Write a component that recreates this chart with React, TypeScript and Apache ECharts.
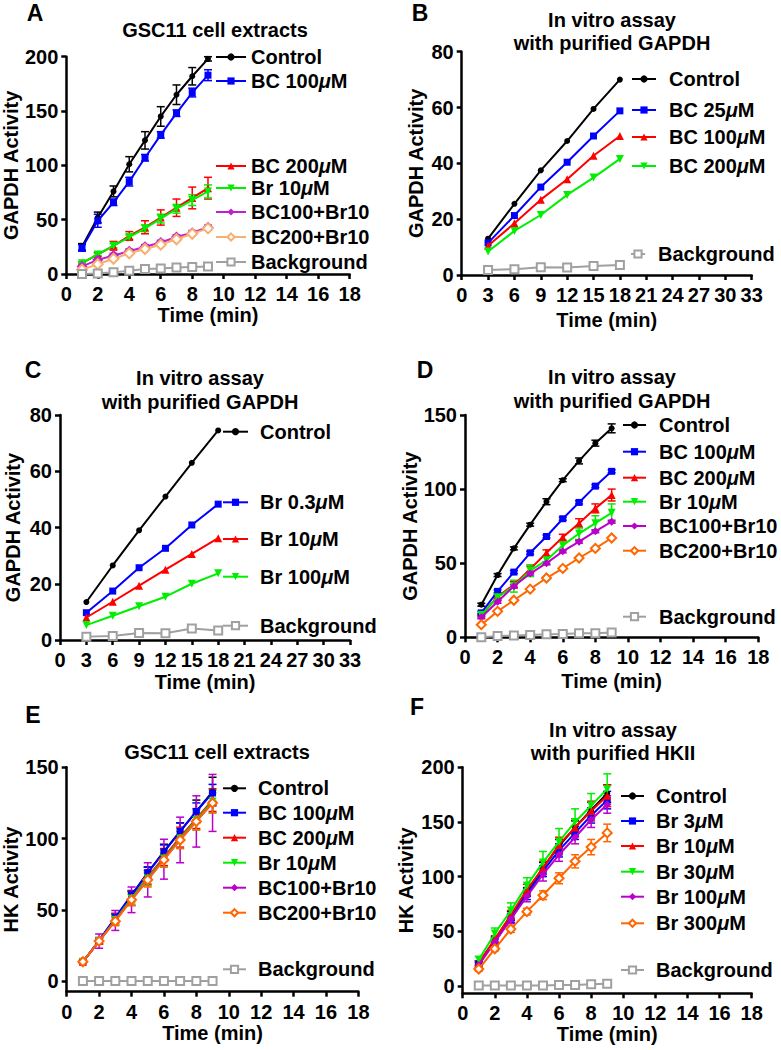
import React, { useEffect, useRef } from "react";
import * as echarts from "echarts";

const FONT = '"Liberation Sans", Arial, Helvetica, sans-serif';

// ---------------- data ----------------
const timeShort = [1, 2, 3, 4, 5, 6, 7, 8, 9];
const timeLong = [3, 6, 9, 12, 15, 18];

const ticksGAPDH200 = [0, 50, 100, 150, 200];
const ticksGAPDH80 = [0, 20, 40, 60, 80];
const ticks150 = [0, 50, 100, 150];
const ticks200 = [0, 50, 100, 150, 200];

// Panel A
const aControl = [25, 52, 76, 101, 123, 145, 165, 182, 198];
const aControlErr = [3, 5, 5, 7, 8, 9, 9, 8, 2];
const aBC100 = [24, 49, 66, 85, 107, 128, 148, 167, 183];
const aBC100Err = [3, 6, 3, 4, 3, 3, 3, 4, 5];
const aBC200 = [10, 18, 26, 35, 43, 52, 61, 70, 79];
const aBC200Err = [1, 2, 4, 4, 6, 7, 8, 10, 10];
const aBr10 = [10, 18, 26, 34, 42, 51, 60, 68, 76];
const aBr10Err = [1, 1, 2, 2, 3, 4, 4, 5, 6];
const aBC100Br10 = [7, 13, 17, 21, 25, 29, 34, 38, 43];
const aBC100Br10Err = [1, 1, 2, 2, 2, 2, 2, 2, 2];
const aBC200Br10 = [4, 9, 14, 19, 23, 27, 32, 37, 42];
const aBackground = [0, 0.5, 1.5, 3, 4.5, 5, 6, 6.5, 7];

// Panel B
const bControl = [13, 25.5, 37.5, 48, 59.5, 70];
const bBC25 = [11.5, 21.3, 31.5, 40.4, 49.8, 58.8];
const bBC100 = [10.5, 18.5, 27, 34.3, 42.7, 49.8];
const bBC200 = [8.4, 15.8, 21.5, 28.7, 34.9, 41.6];
const bBackground = [1.8, 2.1, 2.8, 2.7, 3.2, 3.6];

// Panel C
const cControl = [13.5, 26.5, 39, 51, 63, 74.5];
const cBr03 = [9.7, 17.4, 25.7, 32.6, 40.9, 48.3];
const cBr10 = [8, 13.6, 19.3, 25, 30.6, 36.2];
const cBr100 = [5.3, 8.6, 12, 15.4, 20, 23.7];
const cBackground = [1.2, 1.4, 2.5, 2.4, 4.1, 3.4];

// Panel D
const dControl = [22, 42, 60, 76, 91.5, 106, 119, 131, 141];
const dControlErr = [1, 1, 1, 1, 2, 1, 2, 2, 3];
const dBC100 = [16.5, 31, 44, 57, 68, 80, 91, 102, 112];
const dBC100Err = [1, 1, 1, 1, 1, 1, 1, 1, 1];
const dBC200 = [15, 27.5, 35.5, 46, 57, 67.5, 77, 87, 96];
const dBC200Err = [1, 1, 2, 2, 2, 2, 3, 3, 4];
const dBr10 = [15, 27, 34.5, 45, 52, 62, 70, 77, 84];
const dBr10Err = [1, 2, 4, 4, 3, 3, 4, 5, 6];
const dBC100Br10 = [13.5, 24, 34.5, 43, 50, 58, 64.5, 71.5, 78];
const dBC100Br10Err = [1, 1, 1, 1, 1, 1, 1, 1, 1];
const dBC200Br10 = [8.5, 17.5, 25, 32.5, 40, 46.5, 53.5, 60, 67];
const dBackground = [0, 0.8, 1.2, 1.6, 2, 2.2, 2.7, 2.8, 3.2];

// Panel E
const eControl = [13.5, 28, 44, 60, 76, 91, 105, 119, 133];
const eControlErr = [1, 2, 3, 3, 4, 5, 6, 8, 10];
const eBC100 = [13.5, 28.5, 44.5, 60.5, 76, 90.5, 105, 119, 132];
const eBC100Err = [1, 2, 3, 3, 4, 5, 6, 6, 6];
const eBC200 = [13.5, 28, 43, 58, 73, 87, 101, 114, 127];
const eBC200Err = [1, 2, 4, 5, 5, 6, 7, 7, 8];
const eBr10 = [13.5, 28, 43, 58, 72, 86, 100, 113, 126];
const eBr10Err = [1, 2, 3, 4, 5, 6, 7, 7, 8];
const eBC100Br10 = [13.5, 28, 42.5, 57, 71, 85.5, 99, 112, 125];
const eBC100Br10Err = [1, 5, 7, 9, 12, 14, 16, 18, 20];
const eBC200Br10 = [13.5, 28, 42, 57, 71, 85, 99, 112, 125];
const eBC200Br10Err = [1, 2, 3, 4, 5, 5, 6, 6, 7];
const eBackground = [0, 0, 0, 0, 0, 0, 0, 0, 0];

// Panel F
const fControl = [21, 42, 64, 86, 108, 128, 145, 161, 176];
const fControlErr = [2, 3, 4, 4, 5, 6, 6, 7, 8];
const fBr3 = [20, 41, 62, 84, 105, 124, 140, 156, 170];
const fBr3Err = [2, 3, 4, 5, 5, 6, 6, 7, 8];
const fBr10 = [21, 43, 65, 88, 108, 129, 145, 160, 174];
const fBr10Err = [2, 3, 4, 5, 6, 7, 8, 9, 10];
const fBr30 = [24, 48, 69, 92, 113, 132, 150, 165, 180];
const fBr30Err = [3, 5, 7, 7, 10, 12, 12, 11, 14];
const fBr100 = [19, 40, 61, 82, 102, 120, 136, 152, 166];
const fBr100Err = [2, 3, 4, 5, 6, 6, 6, 7, 8];
const fBr300 = [15.5, 34, 52, 68, 83, 98.5, 114, 127, 140];
const fBr300Err = [2, 2, 3, 3, 4, 5, 6, 7, 8];
const fBackground = [0.5, 0.5, 0.5, 0.5, 0.5, 1, 1, 1.5, 2];

// ---------------- styles ----------------
const DOWN_TRI = "path://M0,0L10,0L5,10Z";
const STYLES: Record<string, { color: string; symbol: string; size: number }> = {
  black: { color: "#000000", symbol: "circle", size: 6 },
  blue: { color: "#0000ff", symbol: "rect", size: 7 },
  red: { color: "#ff0000", symbol: "triangle", size: 8 },
  green: { color: "#00ee00", symbol: DOWN_TRI, size: 8 },
  purple: { color: "#bb00cc", symbol: "diamond", size: 8 },
  purpleBig: { color: "#bb22cc", symbol: "diamond", size: 11 },
  orange: { color: "#ff6600", symbol: "emptyDiamond", size: 9 },
  peach: { color: "#f8b070", symbol: "emptyDiamond", size: 10 },
  gray: { color: "#a0a0a0", symbol: "emptyRect", size: 8 },
};

type SeriesDef = { label: string; style: string; values: number[]; errors?: number[] };
type LegendPos = { y: number; left?: number; itemWidth?: number };
type PanelDef = {
  key: string;
  time: number[];
  series: SeriesDef[];
  grid: { left: number; top: number; width: number; height: number };
  xMax: number;
  xInterval: number;
  xNameGap: number;
  yMin: number;
  yMax: number;
  yTicks: number[];
  yName: string;
  yNameGap: number;
  legend: { left: number; itemWidth: number; textPad: number; items: LegendPos[] };
};

const panels: PanelDef[] = [
  {
    key: "A",
    time: timeShort,
    series: [
      { label: "Control", style: "black", values: aControl, errors: aControlErr },
      { label: "BC 100μM", style: "blue", values: aBC100, errors: aBC100Err },
      { label: "BC 200μM", style: "red", values: aBC200, errors: aBC200Err },
      { label: "Br 10μM", style: "green", values: aBr10, errors: aBr10Err },
      { label: "BC100+Br10", style: "purpleBig", values: aBC100Br10, errors: aBC100Br10Err },
      { label: "BC200+Br10", style: "peach", values: aBC200Br10 },
      { label: "Background", style: "gray", values: aBackground },
    ],
    grid: { left: 61.7, top: 56.7, width: 288, height: 217.3 },
    xMax: 18, xInterval: 2, xNameGap: 30,
    yMin: 0, yMax: 200, yTicks: ticksGAPDH200, yName: "GAPDH Activity", yNameGap: 43,
    legend: { left: 215, itemWidth: 30, textPad: 0, items: [{ y: 57 }, { y: 81 }, { y: 166 }, { y: 188 }, { y: 212 }, { y: 237 }, { y: 262 }] },
  },
  {
    key: "B",
    time: timeLong,
    series: [
      { label: "Control", style: "black", values: bControl },
      { label: "BC 25μM", style: "blue", values: bBC25 },
      { label: "BC 100μM", style: "red", values: bBC100 },
      { label: "BC 200μM", style: "green", values: bBC200 },
      { label: "Background", style: "gray", values: bBackground },
    ],
    grid: { left: 461.7, top: 51.7, width: 290, height: 223.3 },
    xMax: 33, xInterval: 3, xNameGap: 35,
    yMin: 0, yMax: 80, yTicks: ticksGAPDH80, yName: "GAPDH Activity", yNameGap: 36,
    legend: { left: 631, itemWidth: 24, textPad: 8, items: [{ y: 79 }, { y: 110 }, { y: 137 }, { y: 166 }, { y: 254, left: 630, itemWidth: 14 }] },
  },
  {
    key: "C",
    time: timeLong,
    series: [
      { label: "Control", style: "black", values: cControl },
      { label: "Br 0.3μM", style: "blue", values: cBr03 },
      { label: "Br 10μM", style: "red", values: cBr10 },
      { label: "Br 100μM", style: "green", values: cBr100 },
      { label: "Background", style: "gray", values: cBackground },
    ],
    grid: { left: 60, top: 415, width: 290, height: 225 },
    xMax: 33, xInterval: 3, xNameGap: 32,
    yMin: 0, yMax: 80, yTicks: ticksGAPDH80, yName: "GAPDH Activity", yNameGap: 37,
    legend: { left: 222, itemWidth: 25, textPad: 7, items: [{ y: 431.7 }, { y: 502.3 }, { y: 539 }, { y: 576.7 }, { y: 625.7 }] },
  },
  {
    key: "D",
    time: timeShort,
    series: [
      { label: "Control", style: "black", values: dControl, errors: dControlErr },
      { label: "BC 100μM", style: "blue", values: dBC100, errors: dBC100Err },
      { label: "BC 200μM", style: "red", values: dBC200, errors: dBC200Err },
      { label: "Br 10μM", style: "green", values: dBr10, errors: dBr10Err },
      { label: "BC100+Br10", style: "purple", values: dBC100Br10, errors: dBC100Br10Err },
      { label: "BC200+Br10", style: "orange", values: dBC200Br10 },
      { label: "Background", style: "gray", values: dBackground },
    ],
    grid: { left: 465, top: 415, width: 293.3, height: 222.3 },
    xMax: 18, xInterval: 2, xNameGap: 34,
    yMin: 0, yMax: 150, yTicks: ticks150, yName: "GAPDH Activity", yNameGap: 43,
    legend: { left: 622, itemWidth: 23, textPad: 8, items: [{ y: 425 }, { y: 451.7 }, { y: 477.7 }, { y: 501.7 }, { y: 526 }, { y: 550.7 }, { y: 616.7 }] },
  },
  {
    key: "E",
    time: timeShort,
    series: [
      { label: "Control", style: "black", values: eControl, errors: eControlErr },
      { label: "BC 100μM", style: "blue", values: eBC100, errors: eBC100Err },
      { label: "BC 200μM", style: "red", values: eBC200, errors: eBC200Err },
      { label: "Br 10μM", style: "green", values: eBr10, errors: eBr10Err },
      { label: "BC100+Br10", style: "purple", values: eBC100Br10, errors: eBC100Br10Err },
      { label: "BC200+Br10", style: "orange", values: eBC200Br10, errors: eBC200Br10Err },
      { label: "Background", style: "gray", values: eBackground },
    ],
    grid: { left: 66.7, top: 767.3, width: 291.7, height: 224.4 },
    xMax: 18, xInterval: 2, xNameGap: 30,
    yMin: -7.5, yMax: 150, yTicks: ticks150, yName: "HK Activity", yNameGap: 45,
    legend: { left: 222, itemWidth: 23, textPad: 7, items: [{ y: 788.3 }, { y: 812.7 }, { y: 837.7 }, { y: 862.7 }, { y: 887.7 }, { y: 912.7 }, { y: 969.3 }] },
  },
  {
    key: "F",
    time: timeShort,
    series: [
      { label: "Control", style: "black", values: fControl, errors: fControlErr },
      { label: "Br 3μM", style: "blue", values: fBr3, errors: fBr3Err },
      { label: "Br 10μM", style: "red", values: fBr10, errors: fBr10Err },
      { label: "Br 30μM", style: "green", values: fBr30, errors: fBr30Err },
      { label: "Br 100μM", style: "purple", values: fBr100, errors: fBr100Err },
      { label: "Br 300μM", style: "orange", values: fBr300, errors: fBr300Err },
      { label: "Background", style: "gray", values: fBackground },
    ],
    grid: { left: 462.7, top: 767.3, width: 289, height: 226 },
    xMax: 18, xInterval: 2, xNameGap: 30,
    yMin: -6.7, yMax: 200, yTicks: ticks200, yName: "HK Activity", yNameGap: 47,
    legend: { left: 620, itemWidth: 23, textPad: 7, items: [{ y: 796 }, { y: 821 }, { y: 846 }, { y: 871.7 }, { y: 896.7 }, { y: 923.3 }, { y: 970 }] },
  },
];

const headings = [
  { text: "A", x: 35, y: 13, size: 23 },
  { text: "B", x: 420, y: 13, size: 23 },
  { text: "C", x: 33, y: 370, size: 23 },
  { text: "D", x: 425, y: 370, size: 23 },
  { text: "E", x: 33, y: 715, size: 23 },
  { text: "F", x: 417, y: 707, size: 23 },
  { text: "GSC11 cell extracts", x: 215, y: 30, size: 20 },
  { text: "In vitro assay", x: 612, y: 20, size: 20 },
  { text: "with purified GAPDH", x: 612, y: 43, size: 20 },
  { text: "In vitro assay", x: 200, y: 378, size: 20 },
  { text: "with purified GAPDH", x: 200, y: 402, size: 20 },
  { text: "In vitro assay", x: 612, y: 377, size: 20 },
  { text: "with purified GAPDH", x: 612, y: 401, size: 20 },
  { text: "GSC11 cell extracts", x: 217, y: 752, size: 20 },
  { text: "In vitro assay", x: 613, y: 730, size: 20 },
  { text: "with purified HKII", x: 613, y: 753, size: 20 },
];

const boldText = { color: "#000", fontSize: 20, fontWeight: "bold" as const, fontFamily: FONT };

function buildOption() {
  const grid: any[] = [];
  const xAxis: any[] = [];
  const yAxis: any[] = [];
  const series: any[] = [];
  const legend: any[] = [];

  panels.forEach((p, gi) => {
    grid.push({ ...p.grid, containLabel: false });
    xAxis.push({
      type: "value",
      gridIndex: gi,
      min: 0,
      max: p.xMax,
      interval: p.xInterval,
      name: "Time (min)",
      nameLocation: "middle",
      nameGap: p.xNameGap,
      nameTextStyle: boldText,
      axisLine: { show: true, onZero: false, lineStyle: { color: "#000", width: 2.5 } },
      axisTick: { show: true, length: 5, lineStyle: { color: "#000", width: 2.5 } },
      axisLabel: { ...boldText, margin: 10 },
      splitLine: { show: false },
    });
    yAxis.push({
      type: "value",
      gridIndex: gi,
      min: p.yMin,
      max: p.yMax,
      name: p.yName,
      nameLocation: "middle",
      nameGap: p.yNameGap,
      nameTextStyle: boldText,
      axisLine: { show: true, onZero: false, lineStyle: { color: "#000", width: 2.5 } },
      axisTick: { show: true, length: 5, lineStyle: { color: "#000", width: 2.5 }, customValues: p.yTicks },
      axisLabel: { ...boldText, margin: 8, customValues: p.yTicks },
      splitLine: { show: false },
    });

    p.series.forEach((s, si) => {
      const st = STYLES[s.style];
      const name = `${p.key}|${s.label}`;
      if (s.errors) {
        const errs = s.errors;
        const color = st.color;
        series.push({
          type: "custom",
          name: name + "|err",
          xAxisIndex: gi,
          yAxisIndex: gi,
          clip: false,
          silent: true,
          z: 1,
          data: p.time.map((t, k) => [t, s.values[k] - errs[k], s.values[k] + errs[k]]),
          encode: { x: 0, y: [1, 2] },
          renderItem: (params: any, api: any) => {
            const x = api.value(0);
            const top = api.coord([x, api.value(2)]);
            const bot = api.coord([x, api.value(1)]);
            const w = 4;
            const style = { stroke: color, lineWidth: 1.5 };
            return {
              type: "group",
              children: [
                { type: "line", shape: { x1: top[0], y1: top[1], x2: bot[0], y2: bot[1] }, style },
                { type: "line", shape: { x1: top[0] - w, y1: top[1], x2: top[0] + w, y2: top[1] }, style },
                { type: "line", shape: { x1: bot[0] - w, y1: bot[1], x2: bot[0] + w, y2: bot[1] }, style },
              ],
            };
          },
        });
      }
      series.push({
        type: "line",
        name,
        xAxisIndex: gi,
        yAxisIndex: gi,
        data: p.time.map((t, k) => [t, s.values[k]]),
        symbol: st.symbol,
        symbolSize: st.size,
        showSymbol: true,
        color: st.color,
        itemStyle: { color: st.color, borderWidth: 1.5 },
        lineStyle: { color: st.color, width: 2 },
        silent: true,
        z: 2 + si * 0.01,
        emphasis: { disabled: true },
      });

      const li = p.legend.items[si];
      legend.push({
        data: [name],
        left: li.left ?? p.legend.left,
        top: li.y - 11,
        padding: 0,
        itemWidth: li.itemWidth ?? p.legend.itemWidth,
        itemHeight: 9,
        selectedMode: false,
        formatter: (n: string) => {
          const label = n.split("|")[1];
          return label.replace("μ", "{mu|μ}");
        },
        textStyle: {
          ...boldText,
          lineHeight: 22,
          padding: [0, 0, 0, p.legend.textPad],
          rich: {
            mu: { ...boldText, fontStyle: "italic", lineHeight: 22 },
          },
        },
      });
    });
  });

  const graphic = headings.map((h) => ({
    type: "text",
    x: h.x,
    y: h.y,
    silent: true,
    style: {
      text: h.text,
      fill: "#000",
      font: `bold ${h.size}px ${FONT}`,
      align: "center",
      verticalAlign: "middle",
    },
  }));

  return { animation: false, backgroundColor: "#fff", grid, xAxis, yAxis, series, legend, graphic };
}

export default function App() {
  const ref = useRef<HTMLDivElement>(null);
  useEffect(() => {
    if (!ref.current) return;
    const chart = echarts.init(ref.current, undefined, { renderer: "svg" });
    chart.setOption(buildOption() as any);
    return () => chart.dispose();
  }, []);
  return (
    <div
      ref={ref}
      style={{ position: "absolute", left: 0, top: 0, width: 781, height: 1050, background: "#fff" }}
    />
  );
}
